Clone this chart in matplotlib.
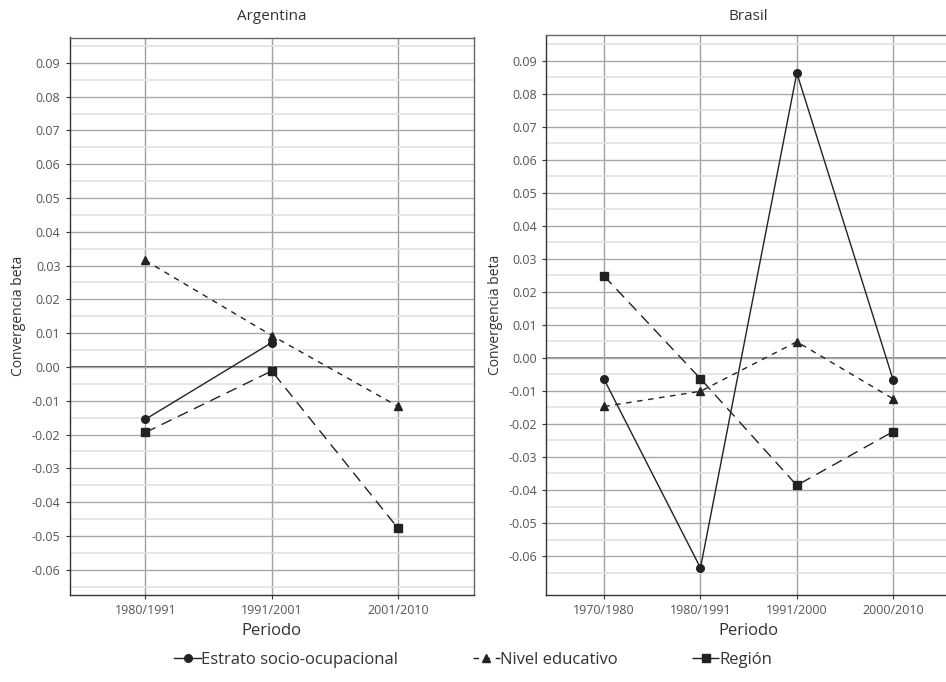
import numpy as np
import matplotlib
matplotlib.use('Agg')
import matplotlib.pyplot as plt
from matplotlib.lines import Line2D

# data
arg_periods = ['1980/1991', '1991/2001', '2001/2010']
arg_estrato = [-0.0155, 0.0072, np.nan]
arg_nivel = [0.0315, 0.0093, -0.0117]
arg_region = [-0.0194, -0.0012, -0.0478]

bra_periods = ['1970/1980', '1980/1991', '1991/2000', '2000/2010']
bra_estrato = [-0.0065, -0.0636, 0.0863, -0.0067]
bra_nivel = [-0.0147, -0.0101, 0.0049, -0.0124]
bra_region = [0.0248, -0.0063, -0.0386, -0.0223]

series_names = ['Estrato socio-ocupacional', 'Nivel educativo', 'Región']

tick_font = ['Open Sans', 'DejaVu Sans']
narrow_font = ['Liberation Sans Narrow', 'Open Sans', 'DejaVu Sans']

ink = '#222222'
styles = [
    dict(linestyle='-', marker='o', markersize=5.5),
    dict(linestyle=(0, (4, 4)), marker='^', markersize=6),
    dict(linestyle=(0, (8, 5)), marker='s', markersize=5.5),
]

W, H = 946, 682
fig = plt.figure(figsize=(W / 100, H / 100), dpi=100)


def px_axes(x0, x1, y0, y1):
    return fig.add_axes([x0 / W, (H - y1) / H, (x1 - x0) / W, (y1 - y0) / H])


def panel(ax, periods, data, ylim, zero_col):
    x = np.arange(len(periods))
    ax.set_xlim(-0.6, len(periods) - 1 + 0.6)
    ax.set_ylim(*ylim)
    ax.set_yticks(np.round(np.arange(-0.06, 0.0901, 0.01), 2))
    ax.set_yticks(np.arange(-0.065, 0.0951, 0.01), minor=True)
    ax.yaxis.set_major_formatter(matplotlib.ticker.FormatStrFormatter('%.2f'))
    ax.set_xticks(x)
    ax.set_xticklabels(periods)
    ax.grid(axis='y', which='major', color='#a8a8a8', lw=1.0, zorder=0)
    ax.grid(axis='y', which='minor', color='#e2e2e2', lw=1.2, zorder=0)
    ax.grid(axis='x', which='major', color='#a0a0a0', lw=1.0, zorder=0)
    ax.axhline(0, color=zero_col, lw=1.1, zorder=1)
    ax.tick_params(axis='both', which='major', length=3, color='#333333',
                   labelcolor='#555555', labelsize=9)
    ax.tick_params(axis='y', which='minor', length=0)
    for lab in ax.get_yticklabels():
        lab.set_family(tick_font)
    for lab in ax.get_xticklabels():
        lab.set_family(narrow_font)
        lab.set_fontsize(9)
    for sp in ax.spines.values():
        sp.set_color('#333333')
        sp.set_linewidth(1.0)
    ax.spines['top'].set_color('#666666')
    ax.spines['right'].set_color('#666666')
    for vals, st in zip(data, styles):
        ax.plot(x, vals, color=ink, lw=1.0, zorder=3, **st)
    ax.set_xlabel('Periodo', fontsize=12, color='#333333', family=narrow_font, labelpad=4)
    ax.set_ylabel('Convergencia beta', fontsize=10, color='#333333', family=tick_font, labelpad=4)


ax1 = px_axes(69.5, 474, 37.5, 595)
panel(ax1, arg_periods, [arg_estrato, arg_nivel, arg_region], (-0.0675, 0.0975), '#222222')

ax2 = px_axes(546.3, 951, 35, 595)
panel(ax2, bra_periods, [bra_estrato, bra_nivel, bra_region], (-0.0718, 0.0978), '#666666')
ax2.spines['right'].set_visible(False)

# panel titles at the same height
fig.text(272 / W, 1 - 17 / H, 'Argentina', ha='center', va='center', fontsize=11,
         color='#333333', family=tick_font)
fig.text(748 / W, 1 - 17 / H, 'Brasil', ha='center', va='center', fontsize=11,
         color='#333333', family=tick_font)

handles = [Line2D([], [], color=ink, lw=1.0, **st) for st in styles]
leg = fig.legend(handles, series_names, loc='center', bbox_to_anchor=(0.5, 1 - 660 / H),
                 ncol=3, frameon=False, handlelength=1.6, handletextpad=0.0,
                 columnspacing=4.5, prop={'family': narrow_font, 'size': 12})
for t in leg.get_texts():
    t.set_color('#333333')

fig.savefig('out.png', dpi=100)
